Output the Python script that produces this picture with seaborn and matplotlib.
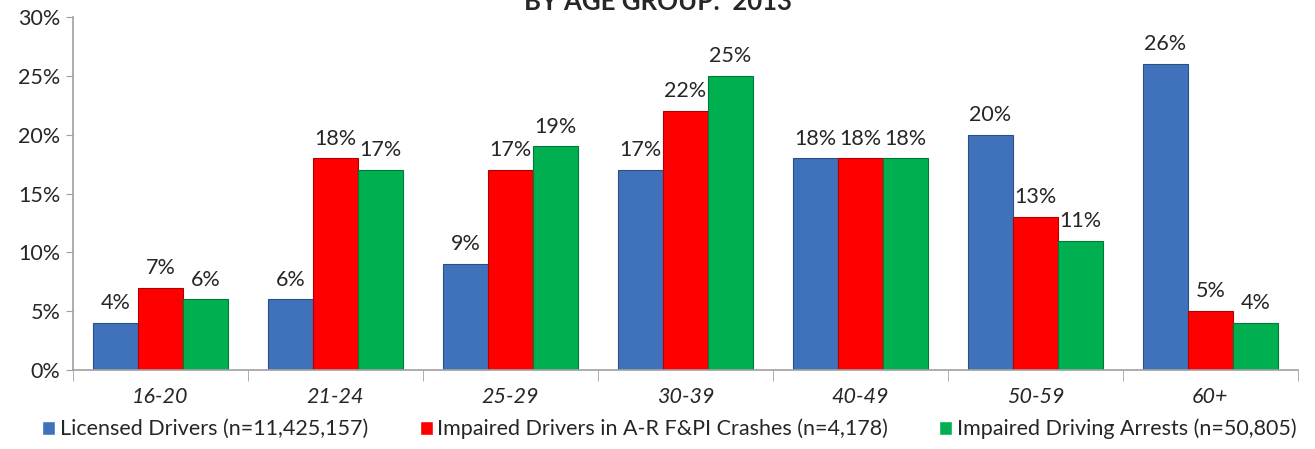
import pandas as pd
import matplotlib.pyplot as plt
import seaborn as sns

# Data
age_groups = ['16-20', '21-24', '25-29', '30-39', '40-49', '50-59', '60+']
licensed = [4, 6, 9, 17, 18, 20, 26]
crashes = [7, 18, 17, 22, 18, 13, 5]
arrests = [6, 17, 19, 25, 18, 11, 4]
series_names = ['Licensed Drivers (n=11,425,157)',
                'Impaired Drivers in A-R F&PI Crashes (n=4,178)',
                'Impaired Driving Arrests (n=50,805)']
colors = ['#3F72BA', '#FF0000', '#00B050']
edge_colors = ['#2A4F85', '#B00000', '#007A38']


def build_frame():
    rows = []
    for name, vals in zip(series_names, [licensed, crashes, arrests]):
        for age, v in zip(age_groups, vals):
            rows.append({'Age': age, 'Series': name, 'Pct': v})
    return pd.DataFrame(rows)


def main():
    df = build_frame()
    sns.set_style('white')
    plt.rcParams['font.family'] = ['Lato', 'DejaVu Sans']
    fs = 15.5

    fig = plt.figure(figsize=(13.15, 4.49), dpi=100)
    ax = fig.add_axes([0.0555, 0.176, 0.9315, 0.786])

    sns.barplot(data=df, x='Age', y='Pct', hue='Series', order=age_groups,
                hue_order=series_names, palette=colors, saturation=1,
                width=0.77, gap=0, ax=ax, legend=True)

    # darker edges to hint the bevelled look
    for cont, ec in zip(ax.containers, edge_colors):
        for bar in cont:
            bar.set_edgecolor(ec)
            bar.set_linewidth(0.8)
        ax.bar_label(cont, labels=[f'{int(b.get_height())}%' for b in cont],
                     padding=7, fontsize=fs)

    ax.set_ylim(0, 30)
    ax.set_yticks(range(0, 31, 5))
    ax.set_yticklabels([f'{t}%' for t in range(0, 31, 5)], fontsize=fs)
    ax.set_xlim(-0.5, len(age_groups) - 0.5)
    ax.set_xticks(range(len(age_groups)))
    ax.set_xticklabels(age_groups, fontsize=fs, style='italic')
    ax.tick_params(axis='x', length=0, pad=12)
    ax.tick_params(axis='y', length=5, color='#A0A0A0', left=True, pad=4)
    # category separators below the axis
    ax.set_xticks([i - 0.5 for i in range(len(age_groups) + 1)], minor=True)
    ax.tick_params(axis='x', which='minor', length=8, color='#A0A0A0', bottom=True)
    ax.set_xlabel('')
    ax.set_ylabel('')

    for side in ['top', 'right']:
        ax.spines[side].set_visible(False)
    for side in ['left', 'bottom']:
        ax.spines[side].set_color('#A0A0A0')
        ax.spines[side].set_linewidth(1.2)

    handles, labels = ax.get_legend_handles_labels()
    ax.legend(handles, labels, loc='lower center', bbox_to_anchor=(0.509, 0.0),
              bbox_transform=fig.transFigure, ncol=3, frameon=False,
              fontsize=fs, handlelength=0.6, handleheight=0.6,
              handletextpad=0.2, columnspacing=2.4, borderaxespad=0.05)

    # title is clipped at the top edge in the reference
    fig.text(0.5, 0.996, 'BY AGE GROUP:  2013', ha='center', va='center',
             fontsize=18.5, fontweight='bold')

    plt.savefig('out.png', dpi=100)


if __name__ == "__main__":
    main()
